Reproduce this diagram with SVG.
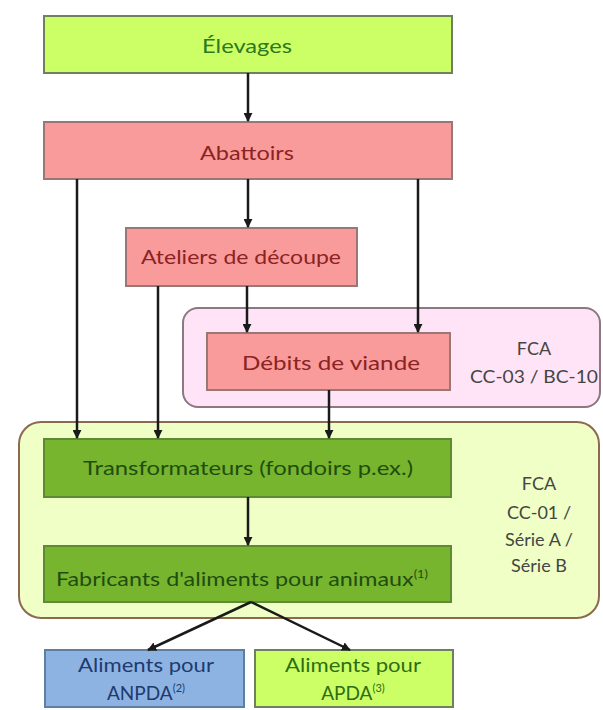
<svg xmlns="http://www.w3.org/2000/svg" width="603" height="710" viewBox="0 0 603 710">
<defs>
<style>
.t{font-family:Lato,"Open Sans","Noto Sans",sans-serif;font-size:20px;text-anchor:middle}
.s{font-size:11px}
.lime{fill:#ccff66;stroke:#6f7f60;stroke-width:2}
.sal{fill:#f99b9a;stroke:#9a7676;stroke-width:2}
.dg{fill:#77b52e;stroke:#5f8a34;stroke-width:2}
.blue{fill:#8db3e2;stroke:#5f7f9f;stroke-width:2}
.c{stroke:#1a1a1a;stroke-width:2.5;fill:none;marker-end:url(#ah)}
</style>
<marker id="ah" viewBox="0 0 10 10" refX="9" refY="5" markerWidth="3.6" markerHeight="3.6" orient="auto" markerUnits="strokeWidth">
<path d="M0,0 L10,5 L0,10 z" fill="#1a1a1a"/>
</marker>
</defs>
<rect width="603" height="710" fill="#ffffff"/>
<g id="grp-pink">
<rect x="183" y="308" width="417" height="99" rx="15" fill="#ffe3f6" stroke="#8c7880" stroke-width="2"/>
<text class="t" x="534" y="355" fill="#454545" style="font-size:18px">FCA</text>
<text class="t" x="534" y="383" fill="#454545" style="font-size:18px" textLength="128" lengthAdjust="spacingAndGlyphs">CC-03 / BC-10</text>
</g>
<g id="grp-green">
<rect x="19" y="422" width="580" height="196" rx="22" fill="#efffc6" stroke="#8b6a4e" stroke-width="2"/>
<text class="t" x="539" y="490" fill="#454545" style="font-size:18px">FCA</text>
<text class="t" x="539" y="519" fill="#454545" style="font-size:18px">CC-01 /</text>
<text class="t" x="539" y="546" fill="#454545" style="font-size:18px">Série A /</text>
<text class="t" x="539" y="572" fill="#454545" style="font-size:18px">Série B</text>
</g>
<g id="n-elevages">
<rect class="lime" x="44" y="16" width="408" height="57"/>
<text class="t" x="247" y="53" fill="#2d7a1e" textLength="90" lengthAdjust="spacingAndGlyphs">Élevages</text>
</g>
<g id="n-abattoirs">
<rect class="sal" x="44" y="122" width="408" height="57"/>
<text class="t" x="247" y="160" fill="#8b2323" textLength="94" lengthAdjust="spacingAndGlyphs">Abattoirs</text>
</g>
<g id="n-ateliers">
<rect class="sal" x="126" y="228" width="231" height="58"/>
<text class="t" x="241" y="264" fill="#8b2323" textLength="200" lengthAdjust="spacingAndGlyphs">Ateliers de découpe</text>
</g>
<g id="n-debits">
<rect class="sal" x="207" y="333" width="243" height="57"/>
<text class="t" x="331" y="370" fill="#8b2323" textLength="178" lengthAdjust="spacingAndGlyphs">Débits de viande</text>
</g>
<g id="n-transf">
<rect class="dg" x="44" y="439" width="407" height="58"/>
<text class="t" x="248" y="475" fill="#1f4d10" textLength="330" lengthAdjust="spacingAndGlyphs">Transformateurs (fondoirs p.ex.)</text>
</g>
<g id="n-fabricants">
<rect class="dg" x="44" y="546" width="407" height="56"/>
<text class="t" x="242" y="586" fill="#1f4d10" textLength="372" lengthAdjust="spacingAndGlyphs">Fabricants d'aliments pour animaux<tspan class="s" dy="-8">(1)</tspan></text>
</g>
<g id="n-anpda">
<rect class="blue" x="45" y="650" width="199" height="57"/>
<text class="t" x="146" y="672" fill="#1f3a6e" style="font-size:19px" textLength="136" lengthAdjust="spacingAndGlyphs">Aliments pour</text>
<text class="t" x="146" y="700" fill="#1f3a6e" style="font-size:19px">ANPDA<tspan class="s" dy="-8">(2)</tspan></text>
</g>
<g id="n-apda">
<rect class="lime" x="255" y="650" width="198" height="57"/>
<text class="t" x="353" y="672" fill="#2d6e14" style="font-size:19px" textLength="136" lengthAdjust="spacingAndGlyphs">Aliments pour</text>
<text class="t" x="353" y="700" fill="#2d6e14" style="font-size:19px">APDA<tspan class="s" dy="-8">(3)</tspan></text>
</g>
<g id="connectors">
<line class="c" x1="248" y1="73" x2="248" y2="121"/>
<line class="c" x1="248" y1="179" x2="248" y2="227"/>
<line class="c" x1="77" y1="179" x2="77" y2="438"/>
<line class="c" x1="418" y1="179" x2="418" y2="332"/>
<line class="c" x1="158" y1="286" x2="158" y2="438"/>
<line class="c" x1="247" y1="286" x2="247" y2="332"/>
<line class="c" x1="329" y1="390" x2="329" y2="438"/>
<line class="c" x1="248" y1="497" x2="248" y2="545"/>
<line class="c" x1="251" y1="602" x2="148" y2="650"/>
<line class="c" x1="251" y1="602" x2="350" y2="650"/>
</g>
</svg>
